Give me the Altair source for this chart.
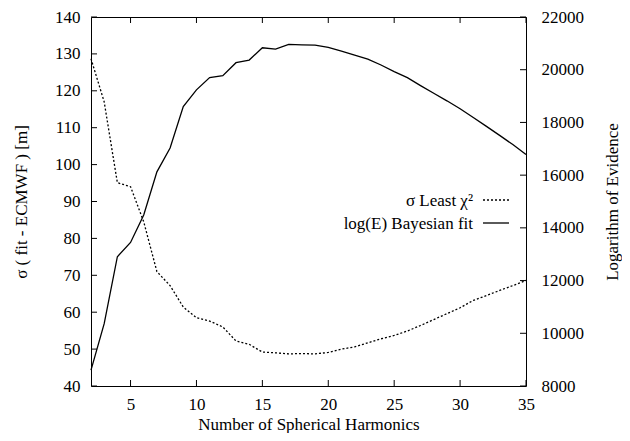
import altair as alt
import pandas as pd

# ---------------- data ----------------
n_harmonics = list(range(2, 36))
sigma_lsq = [128.7, 117.0, 95.1, 94.0, 84.5, 71.0, 67.2, 61.4, 58.5, 57.6,
             56.0, 52.2, 51.3, 49.2, 49.0, 48.7, 48.8, 48.7, 49.1, 50.0,
             50.6, 51.7, 52.8, 53.7, 54.9, 56.4, 58.0, 59.6, 61.2, 63.2,
             64.5, 65.9, 67.2, 68.6]
log_evidence = [8604, 10366, 12906, 13446, 14491, 16126, 17032, 18605, 19235, 19699,
                19775, 20266, 20367, 20832, 20782, 20958, 20945, 20933, 20844, 20706,
                20555, 20405, 20178, 19926, 19699, 19397, 19107, 18820, 18518, 18190,
                17850, 17510, 17160, 16782]

x_ticks = [5, 10, 15, 20, 25, 30, 35]
left_ticks = [40, 50, 60, 70, 80, 90, 100, 110, 120, 130, 140]
right_ticks = [8000, 10000, 12000, 14000, 16000, 18000, 20000, 22000]
legend_labels = ["σ Least χ²", "log(E) Bayesian fit"]

x_title = "Number of Spherical Harmonics"
left_title = "σ ( fit - ECMWF ) [m]"
right_title = "Logarithm of Evidence"

# ---------------- layout ----------------
W, H = 435, 369
FONT = "Liberation Serif"
FS = 17

df = pd.DataFrame({"n": n_harmonics, "sigma": sigma_lsq, "logE": log_evidence})
xt = pd.DataFrame({"v": x_ticks})
lt = pd.DataFrame({"v": left_ticks})
rt = pd.DataFrame({"v": right_ticks})

x_scale = alt.Scale(domain=[2, 35], nice=False, zero=False)
l_scale = alt.Scale(domain=[40, 140], nice=False, zero=False)
r_scale = alt.Scale(domain=[8000, 22000], nice=False, zero=False)

x_axis = alt.Axis(orient="bottom", values=x_ticks, ticks=False, domain=False, grid=False,
                  labelPadding=10, labelFlush=False, labelOverlap=False,
                  labelFont=FONT, labelFontSize=FS, labelColor="black",
                  title=x_title, titleFont=FONT, titleFontSize=FS,
                  titleFontWeight="normal", titleColor="black",
                  titleX=W / 2, titleY=43.5, titleBaseline="alphabetic",
                  titleAlign="center")

left_axis = alt.Axis(orient="left", values=left_ticks, ticks=False, domain=False,
                     grid=False, labelPadding=11, labelFlush=False, labelOverlap=False,
                     labelFont=FONT, labelFontSize=FS, labelColor="black",
                     title=left_title, titleFont=FONT, titleFontSize=FS,
                     titleFontWeight="normal", titleColor="black",
                     titleX=-70, titleY=H / 2, titleAngle=270,
                     titleBaseline="middle", titleAlign="center")

right_axis = alt.Axis(orient="right", values=right_ticks, format="d", ticks=False,
                      domain=False, grid=False, labelPadding=15, labelFlush=False,
                      labelOverlap=False,
                      labelFont=FONT, labelFontSize=FS, labelColor="black",
                      title=right_title, titleFont=FONT, titleFontSize=FS,
                      titleFontWeight="normal", titleColor="black",
                      titleX=91, titleY=H / 2, titleAngle=270,
                      titleBaseline="alphabetic", titleAlign="center")

sigma_line = alt.Chart(df).mark_line(color="black", strokeWidth=1.3,
                                     strokeDash=[2, 2]).encode(
    x=alt.X("n:Q", scale=x_scale, axis=x_axis),
    y=alt.Y("sigma:Q", scale=l_scale, axis=left_axis),
)

logE_line = alt.Chart(df).mark_line(color="black", strokeWidth=1.3).encode(
    x=alt.X("n:Q", scale=x_scale, axis=x_axis),
    y=alt.Y("logE:Q", scale=r_scale, axis=right_axis),
)

# inward tick marks
bottom_ticks = alt.Chart(xt).mark_rule(color="black", strokeWidth=1).encode(
    x=alt.X("v:Q", scale=x_scale, axis=x_axis), y=alt.value(H - 6), y2=alt.value(H))
top_ticks = alt.Chart(xt).mark_rule(color="black", strokeWidth=1).encode(
    x=alt.X("v:Q", scale=x_scale, axis=x_axis), y=alt.value(0), y2=alt.value(6))
left_tick_marks = alt.Chart(lt).mark_rule(color="black", strokeWidth=1).encode(
    y=alt.Y("v:Q", scale=l_scale, axis=None), x=alt.value(0), x2=alt.value(6))
right_tick_marks = alt.Chart(rt).mark_rule(color="black", strokeWidth=1).encode(
    y=alt.Y("v:Q", scale=r_scale, axis=None), x=alt.value(W - 6), x2=alt.value(W))

# legend (top-right inside the plot)
LX_TEXT, LX0, LX1 = 382, 392, 418
LY1, LY2 = 184, 207
leg_text1 = alt.Chart(pd.DataFrame({"t": [legend_labels[0]]})).mark_text(
    align="right", baseline="middle", font=FONT, fontSize=FS, color="black").encode(
    text="t:N", x=alt.value(LX_TEXT), y=alt.value(LY1))
leg_text2 = alt.Chart(pd.DataFrame({"t": [legend_labels[1]]})).mark_text(
    align="right", baseline="middle", font=FONT, fontSize=FS, color="black").encode(
    text="t:N", x=alt.value(LX_TEXT), y=alt.value(LY2))
leg_line1 = alt.Chart(pd.DataFrame({"t": [legend_labels[0]]})).mark_rule(
    color="black", strokeWidth=1.3, strokeDash=[2, 2]).encode(
    x=alt.value(LX0), x2=alt.value(LX1), y=alt.value(LY1 - 1))
leg_line2 = alt.Chart(pd.DataFrame({"t": [legend_labels[1]]})).mark_rule(
    color="black", strokeWidth=1.3).encode(
    x=alt.value(LX0), x2=alt.value(LX1), y=alt.value(LY2 - 1))

chart = alt.layer(
    sigma_line, logE_line,
    bottom_ticks, top_ticks, left_tick_marks, right_tick_marks,
    leg_text1, leg_text2, leg_line1, leg_line2,
).resolve_scale(y="independent").properties(
    width=W, height=H,
    autosize=alt.AutoSizeParams(type="none"),
    padding={"left": 83, "top": 9, "right": 96, "bottom": 47},
    background="white",
).configure_view(stroke="black", strokeWidth=1)

chart.save("out.html", embed_options={"renderer": "svg", "actions": False})
